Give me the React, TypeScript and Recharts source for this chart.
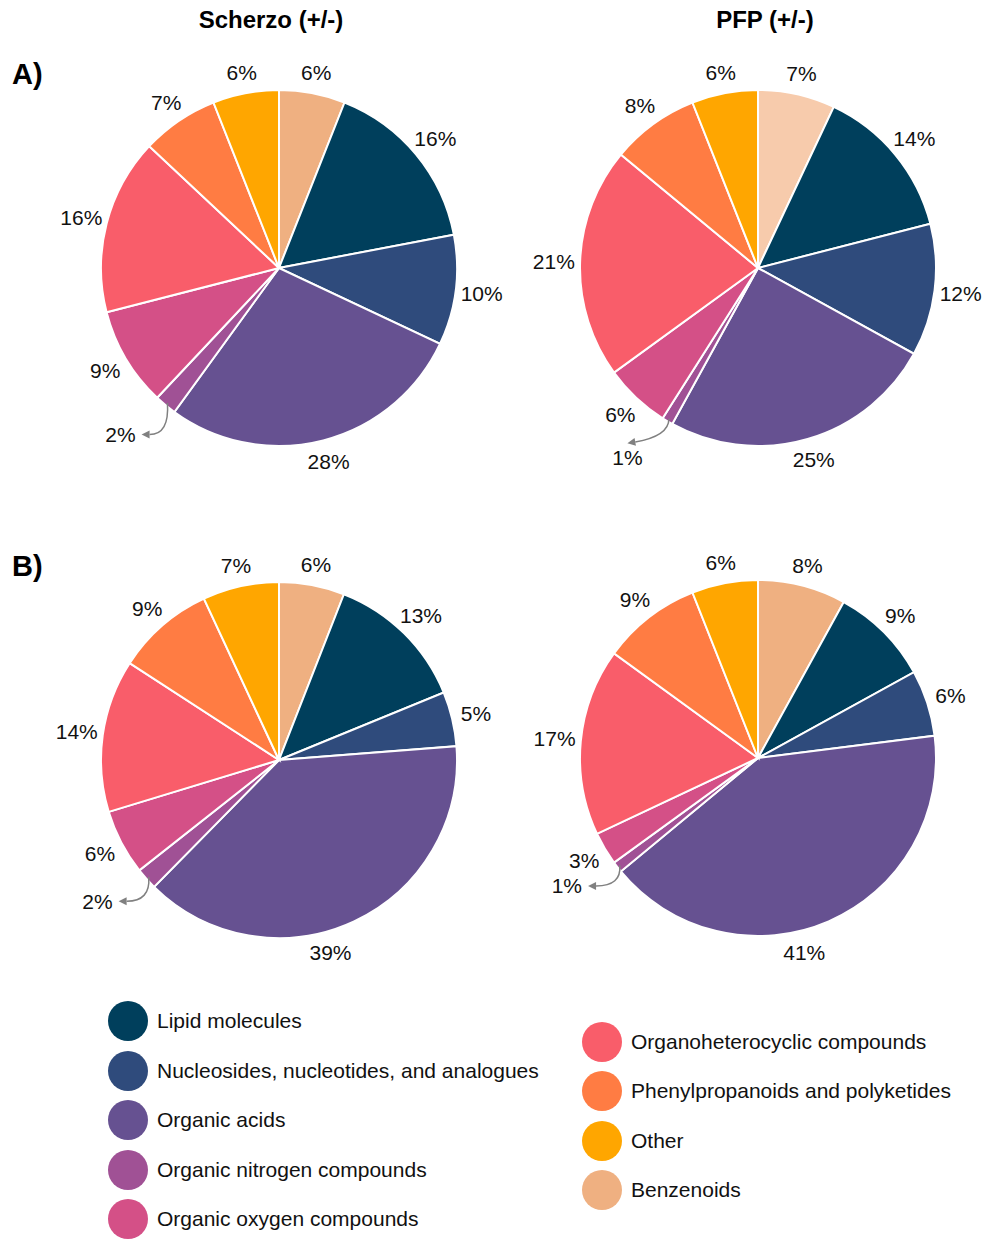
import React from 'react';
import { PieChart, Pie, Cell } from 'recharts';

// Compound classes, in legend order
const categories = [
  'Lipid molecules',
  'Nucleosides, nucleotides, and analogues',
  'Organic acids',
  'Organic nitrogen compounds',
  'Organic oxygen compounds',
  'Organoheterocyclic compounds',
  'Phenylpropanoids and polyketides',
  'Other',
  'Benzenoids',
];

const palette = ['#003F5C', '#2F4B7C', '#665191', '#A05195', '#D45087', '#F95D6A', '#FF7C43', '#FFA600', '#EFB081'];
const benzenoidLight = '#F7CBAC';

// Percent of annotated features per class (legend order)
const scherzoA = [16, 10, 28, 2, 9, 16, 7, 6, 6];
const pfpA = [14, 12, 25, 1, 6, 21, 8, 6, 7];
const scherzoB = [13, 5, 39, 2, 6, 14, 9, 7, 6];
const pfpB = [9, 6, 41, 1, 3, 17, 9, 6, 8];

// Slices run clockwise from 12 o'clock starting with Benzenoids
const sliceOrder = [8, 0, 1, 2, 3, 4, 5, 6, 7];

const columnTitles = ['Scherzo (+/-)', 'PFP (+/-)'];
const panelTags = ['A)', 'B)'];

const FONT = '"Liberation Sans", Arial, Helvetica, sans-serif';
const LABEL_SIZE = 21;
const RAD = Math.PI / 180;
const W = 984;
const H = 1239;
const R = 178;

const panels = [
  { values: scherzoA, cx: 279, cy: 268, benz: palette[8] },
  { values: pfpA, cx: 758, cy: 268, benz: benzenoidLight },
  { values: scherzoB, cx: 279, cy: 760, benz: palette[8] },
  { values: pfpB, cx: 758, cy: 758, benz: palette[8] },
];

const buildRows = (values: number[]) =>
  sliceOrder.map((i) => ({ name: categories[i], value: values[i], idx: i }));

function textWidth(s: string, size: number) {
  let w = 0;
  for (const ch of s) w += ch === '%' ? 0.889 : 0.556;
  return w * size;
}

const polar = (cx: number, cy: number, r: number, a: number) => ({
  x: cx + r * Math.cos(-a * RAD),
  y: cy + r * Math.sin(-a * RAD),
});

const renderLabel = (props: any) => {
  const { cx, cy, midAngle, outerRadius, value } = props;
  const text = `${value}%`;
  const w = textWidth(text, LABEL_SIZE);
  const h = 16;
  const common = {
    fontFamily: FONT,
    fontSize: LABEL_SIZE,
    fill: '#111',
    textAnchor: 'middle' as const,
    dominantBaseline: 'central' as const,
  };
  if (value <= 2) {
    // thin slice: label pulled out with a curved arrow
    const s = polar(cx, cy, outerRadius - 3, midAngle);
    const l = polar(cx, cy, outerRadius + 52, midAngle - 4);
    const dx = l.x - s.x;
    const dy = l.y - s.y;
    let e;
    let c;
    if (Math.abs(dx) * 0.8 > Math.abs(dy)) {
      e = { x: l.x + Math.sign(s.x - l.x) * (w / 2 + 6), y: l.y };
      c = { x: s.x + 2, y: l.y };
    } else {
      e = { x: l.x, y: l.y + Math.sign(s.y - l.y) * (h / 2 + 6) };
      c = { x: s.x, y: s.y + (e.y - s.y) * 0.7 };
    }
    const ang = Math.atan2(e.y - c.y, e.x - c.x);
    const len = 8;
    const hw = 4;
    const bx = e.x - len * Math.cos(ang);
    const by = e.y - len * Math.sin(ang);
    const p1 = `${e.x},${e.y}`;
    const p2 = `${bx + hw * Math.sin(ang)},${by - hw * Math.cos(ang)}`;
    const p3 = `${bx - hw * Math.sin(ang)},${by + hw * Math.cos(ang)}`;
    return (
      <g>
        <path d={`M${s.x},${s.y} Q${c.x},${c.y} ${bx},${by}`} stroke="#808080" strokeWidth={1.5} fill="none" />
        <polygon points={`${p1} ${p2} ${p3}`} fill="#808080" />
        <text x={l.x} y={l.y} {...common}>{text}</text>
      </g>
    );
  }
  // very large slices get their label eased toward the bottom of the pie
  const a = value > 35 ? midAngle - 10 : midAngle;
  const cosA = Math.abs(Math.cos(a * RAD));
  const r = outerRadius + 20 + 0.3 * (w / 2) * cosA;
  const p = polar(cx, cy, r, a);
  return <text x={p.x} y={p.y} {...common}>{text}</text>;
};

const legendLeft = [0, 1, 2, 3, 4];
const legendRight = [5, 6, 7, 8];

function LegendItem({ i, x, y }: { i: number; x: number; y: number }) {
  return (
    <div style={{ position: 'absolute', left: x - 20, top: y - 20, height: 40, display: 'flex', alignItems: 'center', whiteSpace: 'nowrap' }}>
      <div style={{ width: 40, height: 40, borderRadius: 20, background: palette[i] }} />
      <span style={{ marginLeft: 9, fontFamily: FONT, fontSize: 21, color: '#111' }}>{categories[i]}</span>
    </div>
  );
}

export default function App() {
  return (
    <div style={{ position: 'absolute', left: 0, top: 0, width: W, height: H, background: '#fff' }}>
      <PieChart width={W} height={H} margin={{ top: 0, right: 0, bottom: 0, left: 0 }}>
        {panels.map((p, k) => (
          <Pie
            key={k}
            data={buildRows(p.values)}
            dataKey="value"
            nameKey="name"
            cx={p.cx}
            cy={p.cy}
            outerRadius={R}
            startAngle={90}
            endAngle={-270}
            stroke="#fff"
            strokeWidth={2}
            label={renderLabel}
            labelLine={false}
            isAnimationActive={false}
          >
            {buildRows(p.values).map((row) => (
              <Cell key={row.name} fill={row.idx === 8 ? p.benz : palette[row.idx]} />
            ))}
          </Pie>
        ))}
      </PieChart>
      <div style={{ position: 'absolute', left: 171, width: 200, top: 6, textAlign: 'center', fontFamily: FONT, fontWeight: 700, fontSize: 24 }}>
        {columnTitles[0]}
      </div>
      <div style={{ position: 'absolute', left: 665, width: 200, top: 6, textAlign: 'center', fontFamily: FONT, fontWeight: 700, fontSize: 24 }}>
        {columnTitles[1]}
      </div>
      <div style={{ position: 'absolute', left: 12, top: 58, fontFamily: FONT, fontWeight: 700, fontSize: 29 }}>{panelTags[0]}</div>
      <div style={{ position: 'absolute', left: 12, top: 550, fontFamily: FONT, fontWeight: 700, fontSize: 29 }}>{panelTags[1]}</div>
      {legendLeft.map((i, k) => (
        <LegendItem key={i} i={i} x={128} y={1021 + k * 49.5} />
      ))}
      {legendRight.map((i, k) => (
        <LegendItem key={i} i={i} x={602} y={1042 + k * 49.3} />
      ))}
    </div>
  );
}
